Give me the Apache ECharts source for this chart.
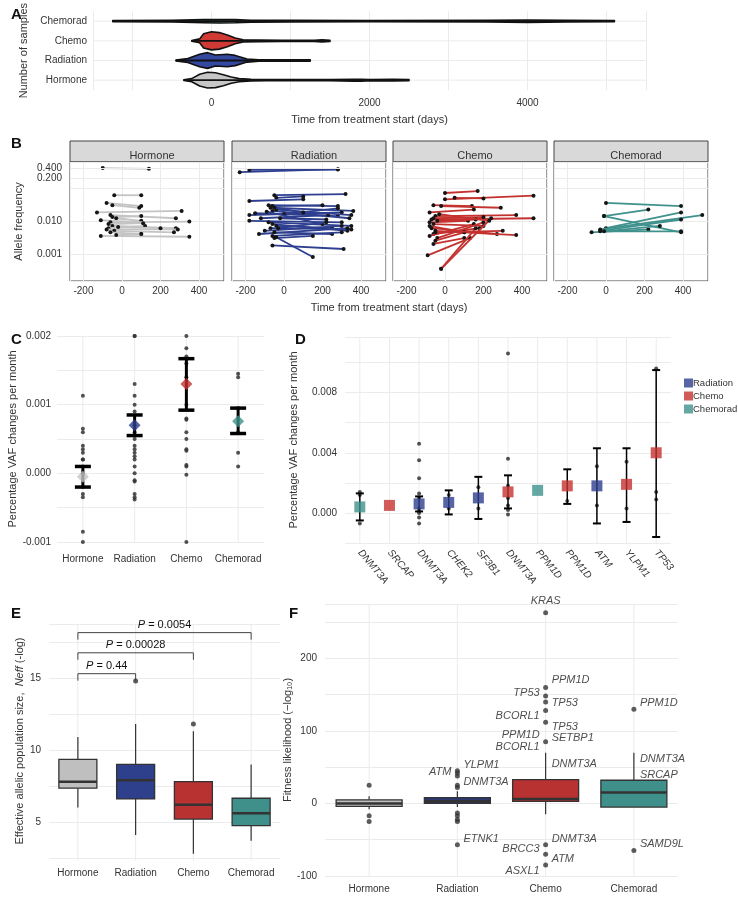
<!DOCTYPE html>
<html>
<head>
<meta charset="utf-8">
<script src="https://cdn.jsdelivr.net/npm/echarts@6/dist/echarts.min.js"></script>
<style>html,body{margin:0;padding:0;background:#fff}#main{width:738px;height:900px}</style>
</head>
<body>
<div id="main"></div>
<script>
// ---------- data ----------
const groups = ['Hormone', 'Radiation', 'Chemo', 'Chemorad'];
const colA = ['#c6c6c6', '#3548a0', '#cf3a35', '#4a9a95'];

// A: violin profiles (time, half width in row units)
const violinTimes = [
  [-350, -250, -150, -50, 50, 150, 250, 350, 500, 700, 1000, 1500, 1800, 1900, 2000, 2300, 2500],
  [-450, -300, -150, -50, 50, 200, 300, 450, 600, 900, 1250],
  [-250, -150, -100, 0, 100, 200, 300, 400, 600, 900, 1300, 1400, 1500],
  [-1250, -500, -100, 100, 300, 500, 1000, 2000, 3500, 4000, 4500, 5100]
];
const violinWidths = [
  [0.02, 0.08, 0.3, 0.4, 0.38, 0.28, 0.16, 0.08, 0.04, 0.03, 0.03, 0.03, 0.05, 0.05, 0.03, 0.04, 0.03],
  [0.02, 0.1, 0.32, 0.4, 0.28, 0.32, 0.26, 0.08, 0.04, 0.03, 0.03],
  [0.02, 0.1, 0.36, 0.46, 0.42, 0.3, 0.15, 0.06, 0.04, 0.03, 0.03, 0.05, 0.03],
  [0.03, 0.04, 0.08, 0.09, 0.08, 0.05, 0.04, 0.03, 0.04, 0.06, 0.04, 0.03]
];

// B: allele frequency pairs [t1, vaf1, t2, vaf2]
const bHormone = [
  [-100, 0.40, 140, 0.38], [-40, 0.060, 100, 0.060], [-80, 0.035, 100, 0.028], [-50, 0.030, 90, 0.025],
  [-130, 0.018, 310, 0.020], [-60, 0.015, 280, 0.012], [-50, 0.013, 100, 0.014], [-30, 0.012, 100, 0.010],
  [-110, 0.0105, 100, 0.009], [-60, 0.009, 350, 0.0095], [-70, 0.008, 110, 0.0085], [-50, 0.007, 280, 0.006],
  [-70, 0.006, 120, 0.007], [-80, 0.0055, 290, 0.0055], [-40, 0.005, 270, 0.0045], [-60, 0.0045, 100, 0.004],
  [-110, 0.0035, 350, 0.0033], [-30, 0.0037, 100, 0.0040], [-20, 0.0065, 200, 0.006]
];
const bRadiation = [
  [-230, 0.30, 280, 0.37], [-180, 0.35, 280, 0.36], [-50, 0.06, 320, 0.065], [-40, 0.05, 100, 0.055],
  [-180, 0.04, 100, 0.045], [-80, 0.030, 280, 0.028], [-60, 0.028, 200, 0.030], [-70, 0.025, 360, 0.020],
  [-180, 0.015, 300, 0.018], [-150, 0.017, 280, 0.014], [-60, 0.020, 340, 0.012], [-120, 0.012, 230, 0.015],
  [-180, 0.010, 300, 0.009], [-80, 0.009, 350, 0.007], [-60, 0.008, 330, 0.005], [-40, 0.007, 250, 0.006],
  [-70, 0.006, 350, 0.0055], [-100, 0.005, 300, 0.007], [-130, 0.004, 330, 0.006], [-50, 0.0045, 250, 0.004],
  [-60, 0.0035, 300, 0.0045], [-50, 0.003, 150, 0.0035], [-20, 0.012, 220, 0.011], [0, 0.016, 280, 0.024],
  [-40, 0.022, 350, 0.015], [-90, 0.019, 200, 0.008], [-60, 0.0018, 310, 0.0014], [-40, 0.0032, 150, 0.0008],
  [-50, 0.025, 100, 0.018], [-30, 0.006, 220, 0.009]
];
const bChemo = [
  [0, 0.07, 170, 0.08], [0, 0.045, 460, 0.058], [50, 0.05, 200, 0.048], [-60, 0.03, 140, 0.028],
  [-20, 0.028, 290, 0.025], [-80, 0.018, 150, 0.022], [-50, 0.014, 370, 0.015], [-70, 0.011, 460, 0.012],
  [-60, 0.012, 200, 0.013], [-80, 0.009, 120, 0.010], [-60, 0.008, 200, 0.007], [-80, 0.007, 100, 0.0045],
  [-70, 0.006, 270, 0.004], [-50, 0.005, 370, 0.0037], [-60, 0.004, 180, 0.006], [-80, 0.0035, 150, 0.008],
  [-40, 0.003, 200, 0.009], [-50, 0.0025, 100, 0.0045], [-60, 0.002, 100, 0.003], [-90, 0.0009, 130, 0.003],
  [-20, 0.00035, 160, 0.006], [-20, 0.00035, 240, 0.012], [-50, 0.0045, 300, 0.005], [-40, 0.01, 160, 0.011],
  [-30, 0.016, 230, 0.01]
];
const bChemorad = [
  [0, 0.035, 390, 0.028], [-10, 0.014, 220, 0.022], [-10, 0.014, 390, 0.0045], [0, 0.006, 390, 0.018],
  [-30, 0.0055, 500, 0.015], [-30, 0.0050, 390, 0.011], [-75, 0.0045, 220, 0.0055], [-30, 0.0048, 390, 0.0048],
  [-10, 0.0048, 280, 0.007]
];
const bFacets = [bHormone, bRadiation, bChemo, bChemorad];
const colB = ['#c4c4c4', '#2e3f8f', '#c4322f', '#3f918c'];
const bTickVals = [0.001, 0.010, 0.200, 0.400];

// C: VAF change per month by treatment
const cMean = [-0.00005, 0.0007, 0.0013, 0.00076];
const cLo = [-0.0002, 0.00055, 0.00092, 0.00058];
const cHi = [0.0001, 0.00085, 0.00167, 0.00095];
const cPoints = [
  [0.00113, 0.00065, 0.0006, 0.0004, 0.00035, 0.0003, 0.0002, 0.0002, 0.0001, 0, -0.0002, -0.0003, -0.00035, -0.00085, -0.001],
  [0.002, 0.002, 0.0013, 0.00113, 0.001, 0.0009, 0.0007, 0.0006, 0.0005, 0.0004, 0.00035, 0.0003, 0.00025, 0.0002, 0.0001, 0, -0.0001, -0.00012, -0.0003, -0.00035, -0.00038],
  [0.002, 0.00182, 0.0017, 0.0016, 0.0014, 0.001, 0.0008, 0.00078, 0.0006, 0.0005, 0.00035, 0.00033, 0.00012, 0.0001, -0.00002, -0.001],
  [0.00145, 0.0014, 0.00095, 0.0006, 0.0003, 0.0001]
];
const colC = ['#c4c4c4', '#2e3f8f', '#c4322f', '#3f918c'];

// D: per gene
const dGenes = ['DNMT3A', 'SRCAP', 'DNMT3A', 'CHEK2', 'SF3B1', 'DNMT3A', 'PPM1D', 'PPM1D', 'ATM', 'YLPM1', 'TP53'];
const dGroup = ['Chemorad', 'Chemo', 'Radiation', 'Radiation', 'Radiation', 'Chemo', 'Chemorad', 'Chemo', 'Radiation', 'Chemo', 'Chemo'];
const dMean = [0.0004, 0.0005, 0.0006, 0.0007, 0.001, 0.0014, 0.0015, 0.0018, 0.0018, 0.0019, 0.004];
const dLo = [-0.0005, null, 0.0001, -0.0001, -0.0004, 0.0003, null, 0.0006, -0.0007, -0.0006, -0.0016];
const dHi = [0.0013, null, 0.0011, 0.0015, 0.0024, 0.0025, null, 0.0029, 0.0043, 0.0043, 0.0095];
const dPoints = [
  [0.0014, 0.0012, -0.0007], [], [0.0046, 0.0035, 0.0023, 0.0013, 0.001, 0.0003, 0.0001, 0, -0.0003, -0.0007],
  [0.0012, 0.0003], [0.0017, 0.0003], [0.0106, 0.0036, 0.0018, 0.001, 0.0005, 0.0002, -0.0001], [],
  [0.0008], [0.0031, 0.0005], [0.0034, 0.0003], [0.0096, 0.0014, 0.0009]
];
const dLegend = ['Radiation', 'Chemo', 'Chemorad'];
const colD = { Radiation: '#2e3f8f', Chemo: '#c4322f', Chemorad: '#3f918c' };

// E: Neff boxes [min, q1, median, q3, max]
const eBoxes = [[6.0, 7.35, 7.8, 9.35, 10.9], [4.1, 6.6, 7.9, 9.0, 11.8], [2.8, 5.2, 6.2, 7.8, 11.3], [3.7, 4.75, 5.6, 6.65, 9.0]];
const eOutliers = [[1, 14.8], [2, 11.8]];
const eBrackets = [[0, 1, 15.3, '0.44'], [0, 2, 16.75, '0.00028'], [0, 3, 18.15, '0.0054']];
const colE = ['#bfbfbf', '#2e3f8c', '#b83232', '#3f8f8b'];

// F: fitness likelihood
const fBoxes = [[-8, -4, 0, 5, 10], [-5, 0, 3, 8, 17], [-15, 3, 6, 33, 70], [-5, -5, 15, 32, 70]];
const fOutliers = [[0, 25], [0, -17], [0, -25], [1, 45], [1, 42], [1, 38], [1, 25], [1, 22], [1, -13], [1, -17], [1, -22], [1, -25],
  [1, -57], [2, 263], [2, 160], [2, 148], [2, 140], [2, 128], [2, 112], [2, 85], [2, -57], [2, -70], [2, -85], [3, 130], [3, -65]];
const fLabels = [[2, 263, 'KRAS', 'top'], [2, 170, 'PPM1D', 'right'], [2, 153, 'TP53', 'left'], [2, 138, 'TP53', 'right'],
  [2, 120, 'BCORL1', 'left'], [2, 106, 'TP53', 'right'], [2, 94, 'PPM1D', 'left'], [2, 91, 'SETBP1', 'right'],
  [2, 78, 'BCORL1', 'left'], [2, 55, 'DNMT3A', 'right'], [2, -49, 'DNMT3A', 'right'], [2, -63, 'BRCC3', 'left'],
  [2, -77, 'ATM', 'right'], [2, -93, 'ASXL1', 'left'], [1, 53, 'YLPM1', 'right'], [1, 43, 'ATM', 'left'],
  [1, 30, 'DNMT3A', 'right'], [1, -49, 'ETNK1', 'right'], [3, 138, 'PPM1D', 'right'], [3, 62, 'DNMT3A', 'right'],
  [3, 40, 'SRCAP', 'right'], [3, -56, 'SAMD9L', 'right']];
const colF = ['#bfbfbf', '#2d3870', '#b83232', '#3f8f8b'];

// ---------- chart ----------
const FONT = 'Liberation Sans';
const TXT = '#333';
const GRID = '#ebebeb';
const chart = echarts.init(document.getElementById('main'));

const split = { show: true, lineStyle: { color: GRID, width: 1 } };
const noLine = { show: false };
const lbl = (o) => Object.assign({ fontFamily: FONT, fontSize: 10, color: TXT }, o || {});
const nameStyle = { fontFamily: FONT, fontSize: 11, color: TXT };

const grids = [], xAxes = [], yAxes = [], series = [], titles = [];

function addGrid(g) { grids.push(Object.assign({ containLabel: false }, g)); return grids.length - 1; }

// vertical grid line per category
function catLines(xi, yi, n, lo, hi) {
  series.push({ type: 'custom', xAxisIndex: xi, yAxisIndex: yi, data: Array.from({ length: n }, (v, i) => [i, 0]), silent: true, z: 1,
    renderItem: (params, api) => {
      const a = api.coord([api.value(0), lo]), b = api.coord([api.value(0), hi]);
      return { type: 'line', shape: { x1: a[0], y1: a[1], x2: b[0], y2: b[1] }, style: { stroke: GRID, lineWidth: 1 } };
    } });
}

// ggplot style box: whisker lines, box, thick median
function boxSeries(xi, yi, boxes, cols, halfw) {
  series.push({ type: 'custom', xAxisIndex: xi, yAxisIndex: yi, z: 3, data: boxes.map((b, i) => [i].concat(b)),
    renderItem: (params, api) => {
      const i = api.value(0);
      const p = [1, 2, 3, 4, 5].map(k => api.coord([i, api.value(k)]));
      const x = p[0][0];
      return { type: 'group', children: [
        { type: 'line', shape: { x1: x, y1: p[0][1], x2: x, y2: p[1][1] }, style: { stroke: '#333', lineWidth: 1.2 } },
        { type: 'line', shape: { x1: x, y1: p[3][1], x2: x, y2: p[4][1] }, style: { stroke: '#333', lineWidth: 1.2 } },
        { type: 'rect', shape: { x: x - halfw, y: p[3][1], width: halfw * 2, height: p[1][1] - p[3][1] },
          style: { fill: cols[i], stroke: '#333', lineWidth: 1.3 } },
        { type: 'line', shape: { x1: x - halfw, y1: p[2][1], x2: x + halfw, y2: p[2][1] }, style: { stroke: '#333', lineWidth: 2.5 } }
      ] };
    } });
}

// panel letters
[['A', 6, 2], ['B', 6, 131], ['C', 6, 327], ['D', 290, 327], ['E', 6, 601], ['F', 284, 601]].forEach(p => {
  titles.push({ text: p[0], left: p[1], top: p[2], textStyle: { fontFamily: FONT, fontSize: 15, fontWeight: 'bold', color: '#111' } });
});

// ---- A ----
let gi = addGrid({ left: 93, top: 9, width: 553, height: 81 });
xAxes.push({ gridIndex: gi, type: 'value', min: -1500, max: 5500, splitNumber: 7,
  axisLine: noLine, axisTick: noLine, splitLine: split,
  axisLabel: lbl({ margin: 8, showMinLabel: false, showMaxLabel: false, formatter: v => (v % 2000 === 0 && v >= 0) ? String(v) : '' }),
  name: 'Time from treatment start (days)', nameLocation: 'middle', nameGap: 24, nameTextStyle: nameStyle });
yAxes.push({ gridIndex: gi, type: 'category', data: groups, axisLine: noLine, axisTick: noLine,
  splitLine: { show: false }, axisLabel: lbl({ margin: 6, interval: 0 }),
  name: 'Number of samples', nameLocation: 'middle', nameGap: 54, nameTextStyle: nameStyle });
series.push({ type: 'custom', xAxisIndex: 0, yAxisIndex: 0, data: groups.map((g, i) => [i]), silent: true, z: 1,
  renderItem: (params, api) => {
    const i = api.value(0);
    const a = api.coord([-1500, i]), b = api.coord([5500, i]);
    return { type: 'line', shape: { x1: a[0], y1: a[1], x2: b[0], y2: b[1] }, style: { stroke: GRID, lineWidth: 1 } };
  } });
series.push({ type: 'custom', xAxisIndex: 0, yAxisIndex: 0, data: groups.map((g, i) => [violinTimes[i][0], i]), z: 3,
  renderItem: (params, api) => {
    const i = params.dataIndex;
    const band = api.size([0, 1])[1];
    const ts = violinTimes[i], ws = violinWidths[i];
    const top = ts.map((t, k) => { const c = api.coord([t, i]); return [c[0], c[1] - ws[k] * band]; });
    const bot = ts.map((t, k) => { const c = api.coord([t, i]); return [c[0], c[1] + ws[k] * band]; }).reverse();
    const a = api.coord([ts[0], i]), b = api.coord([ts[ts.length - 1], i]);
    return { type: 'group', children: [
      { type: 'polygon', shape: { points: top.concat(bot) }, style: { fill: colA[i], stroke: '#111', lineWidth: 1.6, lineJoin: 'round' } },
      { type: 'line', shape: { x1: a[0], y1: a[1], x2: b[0], y2: b[1] }, style: { stroke: '#111', lineWidth: 1.8 } }
    ] };
  } });

// ---- B ----
const bLefts = [70, 232, 393, 554];
bFacets.forEach((rows, f) => {
  const si = addGrid({ left: bLefts[f], top: 141, width: 154, height: 21, show: true, backgroundColor: '#d9d9d9', borderColor: '#444', borderWidth: 1 });
  xAxes.push({ gridIndex: si, type: 'value', show: false });
  yAxes.push({ gridIndex: si, type: 'value', show: false });
  titles.push({ text: groups[f], left: bLefts[f] + 77, top: 145, textAlign: 'center', textStyle: { fontFamily: FONT, fontSize: 11, fontWeight: 'normal', color: TXT } });
  const g = addGrid({ left: bLefts[f], top: 162, width: 154, height: 119, show: true, borderColor: '#444', borderWidth: 1 });
  const xi = xAxes.length, yi = yAxes.length;
  xAxes.push({ gridIndex: g, type: 'value', min: -270, max: 530, splitNumber: 4,
    axisLine: noLine, axisTick: noLine, splitLine: split,
    axisLabel: lbl({ showMinLabel: false, showMaxLabel: false, margin: 5 }),
    name: f === 1 ? 'Time from treatment start (days)' : '', nameLocation: 'middle', nameGap: 21,
    nameTextStyle: Object.assign({}, nameStyle, { padding: [0, 0, 0, 160] }) });
  yAxes.push({ gridIndex: g, type: 'log', logBase: 10, min: 0.00015, max: 0.61,
    axisLine: noLine, axisTick: noLine, splitLine: split,
    axisLabel: lbl({ show: f === 0, margin: 8, formatter: v => (Math.abs(v - 0.001) < 1e-9 ? '0.001' : Math.abs(v - 0.01) < 1e-9 ? '0.010' : '') }),
    name: f === 0 ? 'Allele frequency' : '', nameLocation: 'middle', nameGap: 46, nameTextStyle: nameStyle });
  series.push({ type: 'custom', xAxisIndex: xi, yAxisIndex: yi, data: rows, encode: { x: [0, 2], y: [1, 3] }, clip: true,
    renderItem: (params, api) => {
      const p1 = api.coord([api.value(0), api.value(1)]), p2 = api.coord([api.value(2), api.value(3)]);
      return { type: 'group', children: [
        { type: 'line', shape: { x1: p1[0], y1: p1[1], x2: p2[0], y2: p2[1] }, style: { stroke: colB[f], lineWidth: 1.8 } },
        { type: 'circle', shape: { cx: p1[0], cy: p1[1], r: 2 }, style: { fill: '#151515' } },
        { type: 'circle', shape: { cx: p2[0], cy: p2[1], r: 2 }, style: { fill: '#151515' } }
      ] };
    },
    markLine: { silent: true, symbol: 'none', lineStyle: { color: GRID, type: 'solid', width: 1 },
      label: { show: f === 0, position: 'start', distance: 8, fontFamily: FONT, fontSize: 10, color: TXT,
        formatter: p => (p.value >= 0.2 ? p.value.toFixed(3) : '') },
      data: bTickVals.filter(v => v >= 0.2).map(v => ({ yAxis: v })) }
  });
});

// ---- C ----
gi = addGrid({ left: 57, top: 336, width: 207, height: 206 });
let cx = xAxes.length, cy = yAxes.length;
xAxes.push({ gridIndex: gi, type: 'category', data: groups, boundaryGap: true, axisLine: noLine, axisTick: noLine,
  splitLine: { show: false }, axisLabel: lbl({ margin: 12, interval: 0 }) });
yAxes.push({ gridIndex: gi, type: 'value', min: -0.001, max: 0.002, interval: 0.0005, axisLine: noLine, axisTick: noLine,
  splitLine: split, axisLabel: lbl({ margin: 6, formatter: v => (Math.abs(v * 1000 - Math.round(v * 1000)) < 1e-6 ? v.toFixed(3) : '') }),
  name: 'Percentage VAF changes per month', nameLocation: 'middle', nameGap: 33, nameTextStyle: nameStyle });
catLines(cx, cy, 4, -0.001, 0.002);
series.push({ type: 'scatter', xAxisIndex: cx, yAxisIndex: cy, symbolSize: 4, itemStyle: { color: '#333', opacity: 0.85 },
  data: cPoints.flatMap((arr, i) => arr.map(v => [i, v])) });
series.push({ type: 'custom', xAxisIndex: cx, yAxisIndex: cy, data: cMean.map((m, i) => [i, cLo[i], cHi[i]]), z: 4,
  renderItem: (params, api) => {
    const lo = api.coord([api.value(0), api.value(1)]), hi = api.coord([api.value(0), api.value(2)]);
    const w = 8;
    return { type: 'group', children: [
      { type: 'line', shape: { x1: lo[0], y1: lo[1], x2: hi[0], y2: hi[1] }, style: { stroke: '#000', lineWidth: 3 } },
      { type: 'line', shape: { x1: lo[0] - w, y1: lo[1], x2: lo[0] + w, y2: lo[1] }, style: { stroke: '#000', lineWidth: 3.5 } },
      { type: 'line', shape: { x1: hi[0] - w, y1: hi[1], x2: hi[0] + w, y2: hi[1] }, style: { stroke: '#000', lineWidth: 3.5 } }
    ] };
  } });
series.push({ type: 'scatter', xAxisIndex: cx, yAxisIndex: cy, symbol: 'diamond', symbolSize: 12, z: 5,
  data: cMean.map((m, i) => ({ value: [i, m], itemStyle: { color: colC[i] } })) });

// ---- D ----
gi = addGrid({ left: 345, top: 337, width: 326, height: 206 });
let dx = xAxes.length, dy = yAxes.length;
xAxes.push({ gridIndex: gi, type: 'category', data: dGenes.map((g, i) => String(i)), boundaryGap: true, axisLine: noLine, axisTick: noLine,
  splitLine: { show: false },
  axisLabel: lbl({ interval: 0, rotate: -50, margin: 8, fontStyle: 'italic', formatter: (v, i) => dGenes[i] }) });
yAxes.push({ gridIndex: gi, type: 'value', min: -0.002, max: 0.0117, interval: 0.002, axisLine: noLine, axisTick: noLine,
  splitLine: split, axisLabel: lbl({ margin: 8, showMaxLabel: false,
    formatter: v => { const k = Math.round(v * 1000); return (Math.abs(v * 1000 - k) < 1e-6 && k % 4 === 0) ? v.toFixed(3) : ''; } }),
  name: 'Percentage VAF changes per month', nameLocation: 'middle', nameGap: 46, nameTextStyle: nameStyle });
catLines(dx, dy, dGenes.length, -0.002, 0.0117);
series.push({ type: 'scatter', xAxisIndex: dx, yAxisIndex: dy, symbolSize: 4, itemStyle: { color: '#333', opacity: 0.85 },
  data: dPoints.flatMap((arr, i) => arr.map(v => [i, v])) });
series.push({ type: 'custom', xAxisIndex: dx, yAxisIndex: dy, z: 4,
  data: dMean.map((m, i) => [i, dLo[i], dHi[i]]).filter(r => r[1] !== null),
  renderItem: (params, api) => {
    const lo = api.coord([api.value(0), api.value(1)]), hi = api.coord([api.value(0), api.value(2)]);
    const w = 4;
    return { type: 'group', children: [
      { type: 'line', shape: { x1: lo[0], y1: lo[1], x2: hi[0], y2: hi[1] }, style: { stroke: '#000', lineWidth: 1.5 } },
      { type: 'line', shape: { x1: lo[0] - w, y1: lo[1], x2: lo[0] + w, y2: lo[1] }, style: { stroke: '#000', lineWidth: 2 } },
      { type: 'line', shape: { x1: hi[0] - w, y1: hi[1], x2: hi[0] + w, y2: hi[1] }, style: { stroke: '#000', lineWidth: 2 } }
    ] };
  } });
dLegend.forEach(name => {
  series.push({ type: 'scatter', name: name, xAxisIndex: dx, yAxisIndex: dy, symbol: 'rect', symbolSize: 11, z: 5,
    itemStyle: { color: colD[name] },
    data: dMean.map((m, i) => [i, m]).filter((r, i) => dGroup[i] === name) });
});

// ---- E ----
gi = addGrid({ left: 49, top: 624, width: 231, height: 234 });
let ex = xAxes.length, ey = yAxes.length;
xAxes.push({ gridIndex: gi, type: 'category', data: groups, boundaryGap: true, axisLine: noLine, axisTick: noLine,
  splitLine: { show: false }, axisLabel: lbl({ margin: 10, interval: 0 }) });
yAxes.push({ gridIndex: gi, type: 'value', min: 2.5, max: 18.75, interval: 2.5, axisLine: noLine, axisTick: noLine,
  splitLine: split, axisLabel: lbl({ margin: 8, formatter: v => (v % 5 === 0 ? String(v) : '') }),
  name: '{n|Effective allelic population size,  }{i|Neff}{n| (-log)}', nameLocation: 'middle', nameGap: 24,
  nameTextStyle: { rich: { n: nameStyle, i: Object.assign({ fontStyle: 'italic' }, nameStyle) } } });
catLines(ex, ey, 4, 2.3, 18.75);
boxSeries(ex, ey, eBoxes, colE, 19);
series.push({ type: 'scatter', xAxisIndex: ex, yAxisIndex: ey, symbolSize: 5, itemStyle: { color: '#333' }, data: eOutliers, z: 4 });
series.push({ type: 'custom', xAxisIndex: ex, yAxisIndex: ey, data: eBrackets.map(b => [b[0], b[1], b[2]]), z: 4,
  renderItem: (params, api) => {
    const y = api.value(2);
    const a = api.coord([api.value(0), y]), b = api.coord([api.value(1), y]);
    const tk = 7;
    return { type: 'group', children: [
      { type: 'polyline', shape: { points: [[a[0], a[1] + tk], a, b, [b[0], b[1] + tk]] }, style: { stroke: '#444', lineWidth: 1, fill: null } },
      { type: 'text', x: (a[0] + b[0]) / 2, y: a[1] - 2, style: { text: '{i|P} = ' + eBrackets[params.dataIndex][3],
        rich: { i: { fontStyle: 'italic', fontFamily: FONT, fontSize: 11, fill: '#111' } },
        fontFamily: FONT, fontSize: 11, fill: '#111', align: 'center', verticalAlign: 'bottom' } }
    ] };
  } });

// ---- F ----
gi = addGrid({ left: 325, top: 604, width: 353, height: 272 });
let fx = xAxes.length, fy = yAxes.length;
xAxes.push({ gridIndex: gi, type: 'category', data: groups, boundaryGap: true, axisLine: noLine, axisTick: noLine,
  splitLine: { show: false }, axisLabel: lbl({ margin: 8, interval: 0 }) });
yAxes.push({ gridIndex: gi, type: 'value', min: -100, max: 275, interval: 50, axisLine: noLine, axisTick: noLine,
  splitLine: split, axisLabel: lbl({ margin: 8, showMaxLabel: false, formatter: v => (v % 100 === 0 ? String(v) : '') }),
  name: 'Fitness likelihood (−log₁₀)', nameLocation: 'middle', nameGap: 28, nameTextStyle: nameStyle });
catLines(fx, fy, 4, -100, 275);
boxSeries(fx, fy, fBoxes, colF, 33);
series.push({ type: 'scatter', xAxisIndex: fx, yAxisIndex: fy, symbolSize: 5, itemStyle: { color: '#333' }, data: fOutliers, z: 4 });
series.push({ type: 'scatter', xAxisIndex: fx, yAxisIndex: fy, symbolSize: 0, z: 5, silent: true,
  data: fLabels.map(l => ({ value: [l[0], l[1]],
    label: { show: true, position: l[3], distance: 6, formatter: l[2], fontFamily: FONT, fontSize: 11, fontStyle: 'italic', color: '#222' } })) });

chart.setOption({
  animation: false,
  backgroundColor: '#fff',
  textStyle: { fontFamily: FONT },
  title: titles,
  legend: { data: dLegend, orient: 'vertical', left: 679, top: 373, itemWidth: 9, itemHeight: 9, itemGap: 3, icon: 'rect',
    textStyle: { fontFamily: FONT, fontSize: 9.5, color: TXT, padding: [0, 0, 0, -5] } },
  grid: grids,
  xAxis: xAxes,
  yAxis: yAxes,
  series: series
});
</script>
</body>
</html>
